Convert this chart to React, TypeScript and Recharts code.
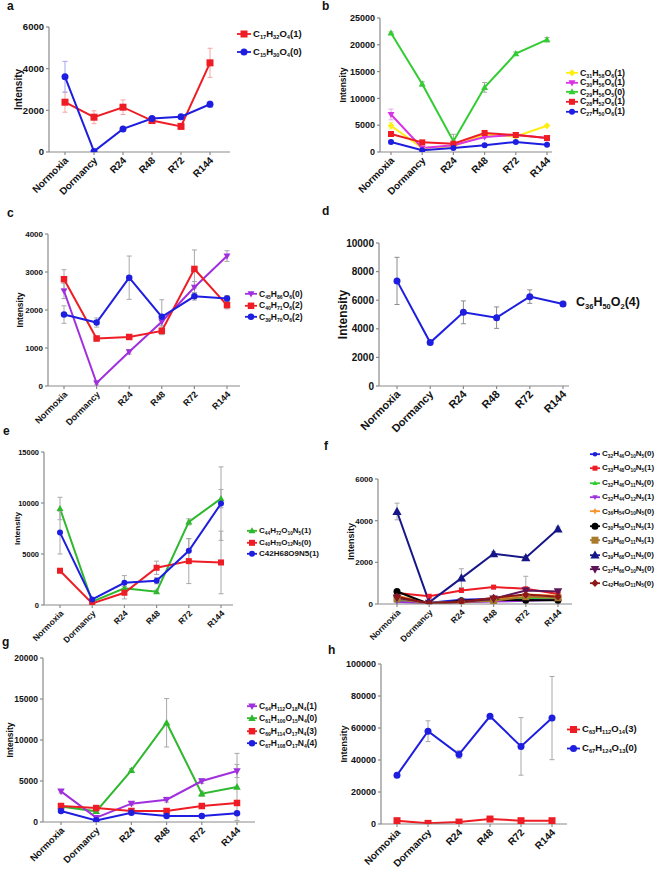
import React from 'react';
import { LineChart, Line, XAxis, YAxis, ErrorBar, Legend } from 'recharts';

const FONT = '"Liberation Sans", Arial, Helvetica, sans-serif';
const AXIS = '#8a8a8a';
const GRAYERR = '#a8a8a8';

const categories = ['Normoxia', 'Dormancy', 'R24', 'R48', 'R72', 'R144'];

// ---- panel a ----
const aNames = ['C17H32O4(1)', 'C15H30O4(0)'];
const aRed = [2390, 1670, 2150, 1510, 1230, 4280];
const aRedErr = [480, 310, 350, 80, 120, 700];
const aBlue = [3610, 30, 1110, 1610, 1690, 2290];
const aBlueErr = [740, 40, 80, 80, 90, 150];
const aTicks = [0, 2000, 4000, 6000];

// ---- panel b ----
const bNames = ['C31H58O6(1)', 'C30H56O6(1)', 'C29H56O5(0)', 'C28H52O6(1)', 'C27H50O6(1)'];
const bYellow = [4900, 750, 1060, 3200, 2900, 4900];
const bYellowErr = [600, 100, 100, 200, 200, 150];
const bMagenta = [7000, 750, 1250, 2800, 3200, 2600];
const bMagentaErr = [1000, 100, 100, 200, 200, 200];
const bGreen = [22200, 12700, 2000, 12060, 18350, 20960];
const bGreenErr = [200, 400, 1300, 900, 300, 400];
const bRed = [3360, 1800, 1550, 3550, 3170, 2600];
const bRedErr = [400, 200, 200, 300, 200, 200];
const bBlue = [1870, 310, 750, 1240, 1870, 1370];
const bBlueErr = [300, 100, 100, 150, 150, 150];
const bTicks = [0, 5000, 10000, 15000, 20000, 25000];

// ---- panel c ----
const cNames = ['C45H86O6(0)', 'C40H71O6(2)', 'C39H70O6(2)'];
const cPurple = [2500, 80, 900, 1690, 2600, 3420];
const cPurpleErr = [200, 50, 60, 100, 150, 140];
const cRed = [2810, 1250, 1290, 1450, 3080, 2130];
const cRedErr = [250, 60, 60, 100, 500, 100];
const cBlue = [1880, 1670, 2850, 1820, 2360, 2300];
const cBlueErr = [230, 120, 570, 450, 100, 80];
const cTicks = [0, 1000, 2000, 3000, 4000];

// ---- panel d ----
const dNames = ['C36H50O2(4)'];
const dBlue = [7350, 3040, 5150, 4780, 6250, 5740];
const dBlueErr = [1650, 100, 800, 750, 470, 180];
const dTicks = [0, 2000, 4000, 6000, 8000, 10000];

// ---- panel e ----
const eNames = ['C44H72O10N5(1)', 'C40H70O12N5(0)', 'C42H68O9N5(1)'];
const eGreen = [9460, 330, 1630, 1300, 8150, 10430];
const eGreenErr = [1100, 100, 200, 150, 300, 900];
const eRed = [3360, 160, 1200, 3650, 4300, 4170];
const eRedErr = [200, 100, 600, 650, 2200, 3070];
const eBlue = [7100, 550, 2180, 2380, 5310, 9940];
const eBlueErr = [2100, 100, 700, 300, 1200, 3600];
const eTicks = [0, 5000, 10000, 15000];

// ---- panel f ----
const fNames = ['C32H46O10N5(0)', 'C33H48O10N5(1)', 'C32H46O11N5(0)', 'C32H44O12N5(1)', 'C36H54O10N5(0)',
  'C30H58O11N5(1)', 'C39H60O11N5(1)', 'C39H68O11N5(0)', 'C37H66O10N5(0)', 'C42H66O11N5(0)'];
const fBlue = [200, 60, 200, 250, 220, 220];
const fRed = [530, 370, 650, 810, 730, 480];
const fGreen = [150, 50, 100, 200, 300, 250];
const fPurple = [100, 40, 80, 120, 150, 200];
const fOrange = [400, 50, 120, 200, 450, 400];
const fBlack = [600, 0, 160, 200, 180, 180];
const fBrown = [250, 20, 100, 150, 350, 300];
const fNavy = [4440, 80, 1240, 2410, 2220, 3600];
const fDarkPurple = [300, 50, 100, 250, 650, 600];
const fDarkRed = [350, 30, 100, 300, 450, 350];
const fSmallErr = [40, 20, 40, 40, 40, 40];
const fRedErr = [80, 40, 80, 80, 600, 80];
const fNavyErr = [400, 40, 450, 100, 100, 100];
const fTicks = [0, 2000, 4000, 6000];

// ---- panel g ----
const gNames = ['C64H112O18N4(1)', 'C61H100O15N4(0)', 'C69H114O17N4(3)', 'C67H108O17N4(4)'];
const gPurple = [3740, 530, 2240, 2720, 5000, 6220];
const gPurpleErr = [200, 100, 200, 300, 300, 800];
const gGreen = [1900, 1300, 6300, 12100, 3460, 4270];
const gGreenErr = [150, 150, 200, 2950, 300, 4100];
const gRed = [1950, 1700, 1340, 1340, 1950, 2320];
const gRedErr = [150, 150, 100, 100, 150, 200];
const gBlue = [1340, 200, 1140, 730, 730, 1060];
const gBlueErr = [150, 50, 100, 100, 100, 100];
const gTicks = [0, 5000, 10000, 15000, 20000];

// ---- panel h ----
const hNames = ['C63H112O14(3)', 'C67H124O13(0)'];
const hRed = [2060, 400, 1200, 3100, 2060, 2060];
const hRedErr = [300, 200, 200, 500, 300, 300];
const hBlue = [30500, 58000, 43500, 67300, 48500, 66200];
const hBlueErr = [600, 6500, 2500, 700, 18000, 26000];
const hTicks = [0, 20000, 40000, 60000, 80000, 100000];

const RED = '#ee1c24';
const BLUE = '#1e1ee0';
const GREEN = '#33cc33';
const YELLOW = '#ffee11';
const MAGENTA = '#d933e6';
const VIOLET = '#a030dd';

type Shape = 'circle' | 'square' | 'triUp' | 'triDown' | 'diamond' | 'plus';

interface Series {
  name: string;
  values: number[];
  errors: number[];
  color: string;
  errColor?: string;
  shape: Shape;
  size: number;
  plain?: boolean;
}

function Marker({ cx, cy, shape, size, color }: { cx: number; cy: number; shape: Shape; size: number; color: string }) {
  const s = size / 2;
  if (cx == null || cy == null || isNaN(cx) || isNaN(cy)) return null;
  switch (shape) {
    case 'circle':
      return <circle cx={cx} cy={cy} r={s} fill={color} />;
    case 'square':
      return <rect x={cx - s} y={cy - s} width={size} height={size} fill={color} />;
    case 'triUp':
      return <polygon points={`${cx},${cy - s * 1.2} ${cx + s * 1.15},${cy + s * 0.85} ${cx - s * 1.15},${cy + s * 0.85}`} fill={color} />;
    case 'triDown':
      return <polygon points={`${cx},${cy + s * 1.2} ${cx + s * 1.15},${cy - s * 0.85} ${cx - s * 1.15},${cy - s * 0.85}`} fill={color} />;
    case 'diamond':
      return <polygon points={`${cx},${cy - s * 1.2} ${cx + s * 1.1},${cy} ${cx},${cy + s * 1.2} ${cx - s * 1.1},${cy}`} fill={color} />;
    case 'plus':
      return (
        <g fill={color}>
          <rect x={cx - s} y={cy - s * 0.35} width={size} height={s * 0.7} />
          <rect x={cx - s * 0.35} y={cy - s} width={s * 0.7} height={size} />
        </g>
      );
    default:
      return null;
  }
}

function Formula({ text, plain }: { text: string; plain?: boolean }) {
  if (plain) return <span>{text}</span>;
  const parts: React.ReactNode[] = [];
  const re = /([A-Z][a-z]?)(\d*)|(\([^)]*\))/g;
  let m: RegExpExecArray | null;
  let k = 0;
  while ((m = re.exec(text))) {
    if (m[3]) {
      parts.push(<span key={k++}>{m[3]}</span>);
    } else {
      parts.push(<span key={k++}>{m[1]}</span>);
      if (m[2]) parts.push(<span key={k++} style={{ fontSize: '0.6em', position: 'relative', top: '0.4em' }}>{m[2]}</span>);
    }
  }
  return <span>{parts}</span>;
}

interface LegendCfg {
  x: number;
  y: number;
  rowH: number;
  fs: number;
  markerW: number;
  noIcon?: boolean;
}

function LegendBox({ items, cfg }: { items: Series[]; cfg: LegendCfg }) {
  return (
    <div style={{ fontFamily: FONT, fontWeight: 'bold', fontSize: cfg.fs, lineHeight: 1, color: '#111' }}>
      {items.map((s, i) => (
        <div key={i} style={{ display: 'flex', alignItems: 'center', height: cfg.rowH, whiteSpace: 'nowrap' }}>
          {!cfg.noIcon && (
            <svg width={cfg.markerW} height={cfg.rowH} style={{ display: 'block', marginRight: 2, overflow: 'visible' }}>
              <line x1={0} x2={cfg.markerW} y1={cfg.rowH / 2} y2={cfg.rowH / 2} stroke={s.color} strokeWidth={1.8} />
              <Marker cx={cfg.markerW / 2} cy={cfg.rowH / 2} shape={s.shape} size={s.size} color={s.color} />
            </svg>
          )}
          <Formula text={s.name} plain={s.plain} />
        </div>
      ))}
    </div>
  );
}

interface PanelCfg {
  letter: string;
  letterX: number;
  letterY: number;
  x0: number;
  yTop: number;
  yBot: number;
  axisX: number;
  axisEnd: number;
  padL: number;
  padR: number;
  ticks: number[];
  yfs: number;
  xfs: number;
  labelX: number;
  labelFs: number;
  legend: LegendCfg;
  series: Series[];
  legendOrder?: number[];
}

function Panel({ cfg }: { cfg: PanelCfg }) {
  const W = 327;
  const topPad = 10;
  const xH = 70;
  const top = cfg.yTop - topPad;
  const H = cfg.yBot - cfg.yTop + topPad + xH;
  const max = cfg.ticks[cfg.ticks.length - 1];
  const rows = categories.map((c, i) => {
    const r: Record<string, any> = { cat: c };
    cfg.series.forEach((s, j) => {
      r['v' + j] = s.values[i];
      r['e' + j] = s.errors[i];
    });
    return r;
  });
  const legendItems = (cfg.legendOrder || cfg.series.map((_, i) => i)).map((i) => cfg.series[i]);
  const XTick = (p: any) => (
    <text
      x={0}
      y={0}
      transform={`translate(${p.x + 4},${p.y + 4}) rotate(-45)`}
      textAnchor="end"
      fontFamily={FONT}
      fontWeight="bold"
      fontSize={cfg.xfs}
      fill="#111"
    >
      {p.payload.value}
    </text>
  );
  const YTick = (p: any) => (
    <text x={p.x} y={p.y} dy="0.36em" textAnchor="end" fontFamily={FONT} fontWeight="bold" fontSize={cfg.yfs} fill="#111">
      {p.payload.value}
    </text>
  );
  const renderLabel = (p: any) => {
    const vb = p.viewBox || { x: 0, y: topPad, width: 0, height: cfg.yBot - cfg.yTop };
    const lx = vb.x + (cfg.labelX - cfg.x0);
    const ly = vb.y + vb.height / 2;
    return (
      <text
        x={lx}
        y={ly}
        transform={`rotate(-90, ${lx}, ${ly})`}
        textAnchor="middle"
        dominantBaseline="central"
        fontFamily={FONT}
        fontWeight="bold"
        fontSize={cfg.labelFs}
        fill="#111"
      >
        Intensity
      </text>
    );
  };
  return (
    <>
      <div
        style={{
          position: 'absolute',
          left: cfg.letterX,
          top: cfg.letterY,
          fontFamily: FONT,
          fontWeight: 'bold',
          fontSize: 12,
          lineHeight: 1,
          color: '#111',
        }}
      >
        {cfg.letter}
      </div>
      <div style={{ position: 'absolute', left: cfg.x0, top, width: W, height: H }}>
        <LineChart
          width={W}
          height={H}
          data={rows}
          margin={{ top: topPad, right: W - (cfg.axisEnd - cfg.x0), bottom: 0, left: 0 }}
        >
          <XAxis
            dataKey="cat"
            padding={{ left: cfg.padL, right: cfg.padR }}
            interval={0}
            height={xH}
            tick={XTick}
            tickSize={3}
            stroke={AXIS}
            strokeWidth={1.2}
          />
          <YAxis
            type="number"
            width={cfg.axisX - cfg.x0}
            domain={[0, max]}
            ticks={cfg.ticks}
            allowDataOverflow
            interval={0}
            tick={YTick}
            tickSize={3}
            stroke={AXIS}
            strokeWidth={1.2}
            label={renderLabel}
          />
          {cfg.series.map((s, j) => (
            <Line
              key={j}
              dataKey={'v' + j}
              stroke={s.color}
              strokeWidth={2}
              isAnimationActive={false}
              dot={(p: any) => <Marker key={`d${j}-${p.index}`} cx={p.cx} cy={p.cy} shape={s.shape} size={s.size} color={s.color} />}
              activeDot={false}
            >
              <ErrorBar dataKey={'e' + j} width={2.5} strokeWidth={1} stroke={s.errColor || GRAYERR} direction="y" />
            </Line>
          ))}
          <Legend
            layout="vertical"
            align="center"
            verticalAlign="middle"
            wrapperStyle={{
              left: cfg.legend.x - cfg.x0,
              top: cfg.legend.y - cfg.legend.rowH / 2 - top,
              width: 'auto',
              height: 'auto',
            }}
            content={() => <LegendBox items={legendItems} cfg={cfg.legend} />}
          />
        </LineChart>
      </div>
    </>
  );
}

const panels: PanelCfg[] = [
  {
    letter: 'a', letterX: 7, letterY: 0,
    x0: 0, yTop: 27, yBot: 152, axisX: 49, axisEnd: 230, padL: 16, padR: 20,
    ticks: aTicks, yfs: 9.5, xfs: 10, labelX: 18, labelFs: 10,
    legend: { x: 237, y: 34, rowH: 18, fs: 9.5, markerW: 14 },
    series: [
      { name: aNames[0], values: aRed, errors: aRedErr, color: RED, errColor: '#f5a5a5', shape: 'square', size: 7 },
      { name: aNames[1], values: aBlue, errors: aBlueErr, color: BLUE, errColor: '#a5a5f0', shape: 'circle', size: 7 },
    ],
  },
  {
    letter: 'b', letterX: 322, letterY: 0,
    x0: 330, yTop: 18, yBot: 152, axisX: 380, axisEnd: 552, padL: 11, padR: 5,
    ticks: bTicks, yfs: 9, xfs: 10, labelX: 343, labelFs: 8.5,
    legend: { x: 566, y: 73, rowH: 9.6, fs: 8.8, markerW: 12 },
    series: [
      { name: bNames[2], values: bGreen, errors: bGreenErr, color: GREEN, shape: 'triUp', size: 6 },
      { name: bNames[0], values: bYellow, errors: bYellowErr, color: YELLOW, errColor: '#f5ee90', shape: 'diamond', size: 6 },
      { name: bNames[1], values: bMagenta, errors: bMagentaErr, color: MAGENTA, errColor: '#e6a5ee', shape: 'triDown', size: 6 },
      { name: bNames[3], values: bRed, errors: bRedErr, color: RED, shape: 'square', size: 6 },
      { name: bNames[4], values: bBlue, errors: bBlueErr, color: BLUE, shape: 'circle', size: 6 },
    ],
    legendOrder: [1, 2, 0, 3, 4],
  },
  {
    letter: 'c', letterX: 7, letterY: 207,
    x0: 0, yTop: 234, yBot: 386, axisX: 48, axisEnd: 240, padL: 16, padR: 13,
    ticks: cTicks, yfs: 8, xfs: 9, labelX: 20, labelFs: 8.5,
    legend: { x: 245, y: 294, rowH: 11.6, fs: 8.5, markerW: 12 },
    series: [
      { name: cNames[0], values: cPurple, errors: cPurpleErr, color: VIOLET, shape: 'triDown', size: 6 },
      { name: cNames[1], values: cRed, errors: cRedErr, color: RED, shape: 'square', size: 6.5 },
      { name: cNames[2], values: cBlue, errors: cBlueErr, color: BLUE, shape: 'circle', size: 6.5 },
    ],
  },
  {
    letter: 'd', letterX: 322, letterY: 205,
    x0: 330, yTop: 243, yBot: 386, axisX: 379, axisEnd: 569, padL: 18, padR: 6,
    ticks: dTicks, yfs: 10, xfs: 11, labelX: 343, labelFs: 12,
    legend: { x: 576, y: 302, rowH: 16, fs: 12.5, markerW: 0, noIcon: true },
    series: [
      { name: dNames[0], values: dBlue, errors: dBlueErr, color: BLUE, errColor: '#8c8c8c', shape: 'circle', size: 7 },
    ],
  },
  {
    letter: 'e', letterX: 3, letterY: 425,
    x0: 0, yTop: 452, yBot: 605, axisX: 44, axisEnd: 233, padL: 16, padR: 12,
    ticks: eTicks, yfs: 7.5, xfs: 8.5, labelX: 17, labelFs: 8,
    legend: { x: 247, y: 531, rowH: 11.6, fs: 8, markerW: 10 },
    series: [
      { name: eNames[0], values: eGreen, errors: eGreenErr, color: '#2eb82e', shape: 'triUp', size: 6 },
      { name: eNames[1], values: eRed, errors: eRedErr, color: RED, shape: 'square', size: 6 },
      { name: eNames[2], values: eBlue, errors: eBlueErr, color: BLUE, shape: 'circle', size: 6, plain: true },
    ],
  },
  {
    letter: 'f', letterX: 324, letterY: 440,
    x0: 330, yTop: 479, yBot: 604, axisX: 378, axisEnd: 572, padL: 19, padR: 14,
    ticks: fTicks, yfs: 8, xfs: 8.5, labelX: 351, labelFs: 9,
    legend: { x: 590, y: 454, rowH: 14.4, fs: 8, markerW: 10 },
    series: [
      { name: fNames[0], values: fBlue, errors: fSmallErr, color: BLUE, shape: 'circle', size: 4.5 },
      { name: fNames[1], values: fRed, errors: fRedErr, color: RED, shape: 'square', size: 5 },
      { name: fNames[2], values: fGreen, errors: fSmallErr, color: GREEN, shape: 'triUp', size: 4.5 },
      { name: fNames[3], values: fPurple, errors: fSmallErr, color: VIOLET, shape: 'triDown', size: 4.5 },
      { name: fNames[4], values: fOrange, errors: fSmallErr, color: '#f7962a', shape: 'plus', size: 5 },
      { name: fNames[5], values: fBlack, errors: fSmallErr, color: '#000000', shape: 'circle', size: 7 },
      { name: fNames[6], values: fBrown, errors: fSmallErr, color: '#a87a2c', shape: 'square', size: 7 },
      { name: fNames[7], values: fNavy, errors: fNavyErr, color: '#161688', shape: 'triUp', size: 8 },
      { name: fNames[8], values: fDarkPurple, errors: fSmallErr, color: '#5e1558', shape: 'triDown', size: 7.5 },
      { name: fNames[9], values: fDarkRed, errors: fSmallErr, color: '#8e1818', shape: 'diamond', size: 6.5 },
    ],
  },
  {
    letter: 'g', letterX: 2, letterY: 636,
    x0: 0, yTop: 658, yBot: 822, axisX: 43, axisEnd: 255, padL: 18, padR: 18,
    ticks: gTicks, yfs: 8.5, xfs: 9.5, labelX: 10, labelFs: 8.5,
    legend: { x: 247, y: 706, rowH: 12.4, fs: 8.5, markerW: 10 },
    series: [
      { name: gNames[1], values: gGreen, errors: gGreenErr, color: '#2eb82e', shape: 'triUp', size: 6.5 },
      { name: gNames[0], values: gPurple, errors: gPurpleErr, color: VIOLET, shape: 'triDown', size: 6.5 },
      { name: gNames[2], values: gRed, errors: gRedErr, color: RED, shape: 'square', size: 6.5 },
      { name: gNames[3], values: gBlue, errors: gBlueErr, color: BLUE, shape: 'circle', size: 6.5 },
    ],
    legendOrder: [1, 0, 2, 3],
  },
  {
    letter: 'h', letterX: 328, letterY: 644,
    x0: 330, yTop: 664, yBot: 824, axisX: 381, axisEnd: 567, padL: 16, padR: 15,
    ticks: hTicks, yfs: 9, xfs: 10, labelX: 344, labelFs: 9,
    legend: { x: 567, y: 729, rowH: 19, fs: 9.5, markerW: 13 },
    series: [
      { name: hNames[0], values: hRed, errors: hRedErr, color: RED, shape: 'square', size: 7 },
      { name: hNames[1], values: hBlue, errors: hBlueErr, color: BLUE, shape: 'circle', size: 7 },
    ],
  },
];

export default function App() {
  return (
    <div style={{ position: 'absolute', left: 0, top: 0, width: 657, height: 870, background: '#fff', overflow: 'hidden' }}>
      {panels.map((p, i) => (
        <Panel key={i} cfg={p} />
      ))}
    </div>
  );
}
